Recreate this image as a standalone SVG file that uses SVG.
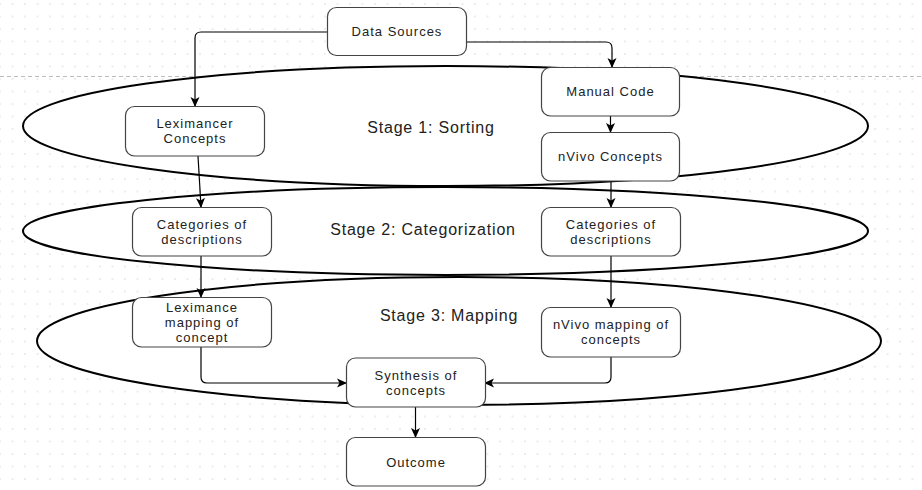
<svg xmlns="http://www.w3.org/2000/svg" width="922" height="490" viewBox="0 0 922 490">
  <defs>
    <pattern id="grid" x="0" y="4" width="12.5" height="12.5" patternUnits="userSpaceOnUse">
      <circle cx="12.5" cy="12.5" r="0.7" fill="#cfcfcf"/>
      <circle cx="0" cy="0" r="0.7" fill="#cfcfcf"/>
      <circle cx="12.5" cy="0" r="0.7" fill="#cfcfcf"/>
      <circle cx="0" cy="12.5" r="0.7" fill="#cfcfcf"/>
    </pattern>
    <marker id="arrow" viewBox="0 0 10 10" refX="9" refY="5" markerWidth="10" markerHeight="10" markerUnits="userSpaceOnUse" orient="auto">
      <path d="M0,0.5 L10,5 L0,9.5 L2.5,5 Z" fill="#000"/>
    </marker>
    <style>
      .box { fill: #fff; stroke: #444; stroke-width: 1.2; }
      .lbl { font-family: "Liberation Sans", Arial, sans-serif; font-size: 13px; letter-spacing: 1px; fill: #222; text-anchor: middle; }
      .stage { font-family: "Liberation Sans", Arial, sans-serif; font-size: 16px; letter-spacing: 0.8px; fill: #222; text-anchor: middle; }
      .ellfill { fill: #fff; stroke: none; }
      .ell { fill: none; stroke: #000; stroke-width: 2; }
      .conn { fill: none; stroke: #000; stroke-width: 1.2; marker-end: url(#arrow); }
    </style>
  </defs>

  <rect x="0" y="0" width="922" height="490" fill="#fff"/>
  <rect x="0" y="0" width="922" height="490" fill="url(#grid)"/>
  <line x1="0" y1="76.5" x2="922" y2="76.5" stroke="#bdbdbd" stroke-width="1" stroke-dasharray="4 3"/>

  <g id="stages">
    <ellipse class="ellfill" cx="445.5" cy="126" rx="422.5" ry="60"/>
    <ellipse class="ellfill" cx="445.5" cy="231" rx="422.5" ry="44"/>
    <ellipse class="ellfill" cx="459" cy="341" rx="422" ry="64"/>
    <ellipse id="stage1-ellipse" class="ell" cx="445.5" cy="126" rx="422.5" ry="60"/>
    <ellipse id="stage2-ellipse" class="ell" cx="445.5" cy="231" rx="422.5" ry="44"/>
    <ellipse id="stage3-ellipse" class="ell" cx="459" cy="341" rx="422" ry="64"/>
    <text class="stage" x="431" y="133">Stage 1: Sorting</text>
    <text class="stage" x="423" y="235">Stage 2: Categorization</text>
    <text class="stage" x="449" y="321">Stage 3: Mapping</text>
  </g>

  <g id="connectors">
    <path class="conn" d="M327,32 H201 Q195,32 195,38 V106"/>
    <path class="conn" d="M466,42 H606 Q612,42 612,48 V67"/>
    <path class="conn" d="M610.5,116 V132"/>
    <path class="conn" d="M198,156 L201,207"/>
    <path class="conn" d="M611,181 V207"/>
    <path class="conn" d="M201,256 V297"/>
    <path class="conn" d="M611,256 V307"/>
    <path class="conn" d="M201,347 V377 Q201,383 207,383 H346"/>
    <path class="conn" d="M611,357 V377 Q611,383 605,383 H485"/>
    <path class="conn" d="M415.5,407 V437"/>
  </g>

  <g id="data-sources">
    <rect class="box" x="327.5" y="7.5" width="139" height="48" rx="9"/>
    <text class="lbl" x="397" y="36">Data Sources</text>
  </g>
  <g id="manual-code">
    <rect class="box" x="541.5" y="67.5" width="138" height="48.5" rx="9"/>
    <text class="lbl" x="610.5" y="96">Manual Code</text>
  </g>
  <g id="leximancer-concepts">
    <rect class="box" x="125.5" y="106.5" width="139" height="49.5" rx="9"/>
    <text class="lbl" x="195" y="128">Leximancer</text>
    <text class="lbl" x="195" y="143">Concepts</text>
  </g>
  <g id="nvivo-concepts">
    <rect class="box" x="541.5" y="132.5" width="138" height="48.5" rx="9"/>
    <text class="lbl" x="610.5" y="161">nVivo Concepts</text>
  </g>
  <g id="categories-left">
    <rect class="box" x="132.5" y="207.5" width="139" height="48.5" rx="9"/>
    <text class="lbl" x="202" y="228.5">Categories of</text>
    <text class="lbl" x="202" y="243.5">descriptions</text>
  </g>
  <g id="categories-right">
    <rect class="box" x="541.5" y="207.5" width="139" height="48.5" rx="9"/>
    <text class="lbl" x="611" y="228.5">Categories of</text>
    <text class="lbl" x="611" y="243.5">descriptions</text>
  </g>
  <g id="leximance-mapping">
    <rect class="box" x="132.5" y="297.5" width="139" height="49.5" rx="9"/>
    <text class="lbl" x="202" y="311.5">Leximance</text>
    <text class="lbl" x="202" y="326.5">mapping of</text>
    <text class="lbl" x="202" y="341.5">concept</text>
  </g>
  <g id="nvivo-mapping">
    <rect class="box" x="541.5" y="307.5" width="139" height="49.5" rx="9"/>
    <text class="lbl" x="611" y="329">nVivo mapping of</text>
    <text class="lbl" x="611" y="344">concepts</text>
  </g>
  <g id="synthesis">
    <rect class="box" x="346.5" y="358" width="139" height="49" rx="9"/>
    <text class="lbl" x="416" y="379.5">Synthesis of</text>
    <text class="lbl" x="416" y="394.5">concepts</text>
  </g>
  <g id="outcome">
    <rect class="box" x="346.5" y="437.5" width="139" height="48.5" rx="9"/>
    <text class="lbl" x="416" y="466.5">Outcome</text>
  </g>
</svg>
